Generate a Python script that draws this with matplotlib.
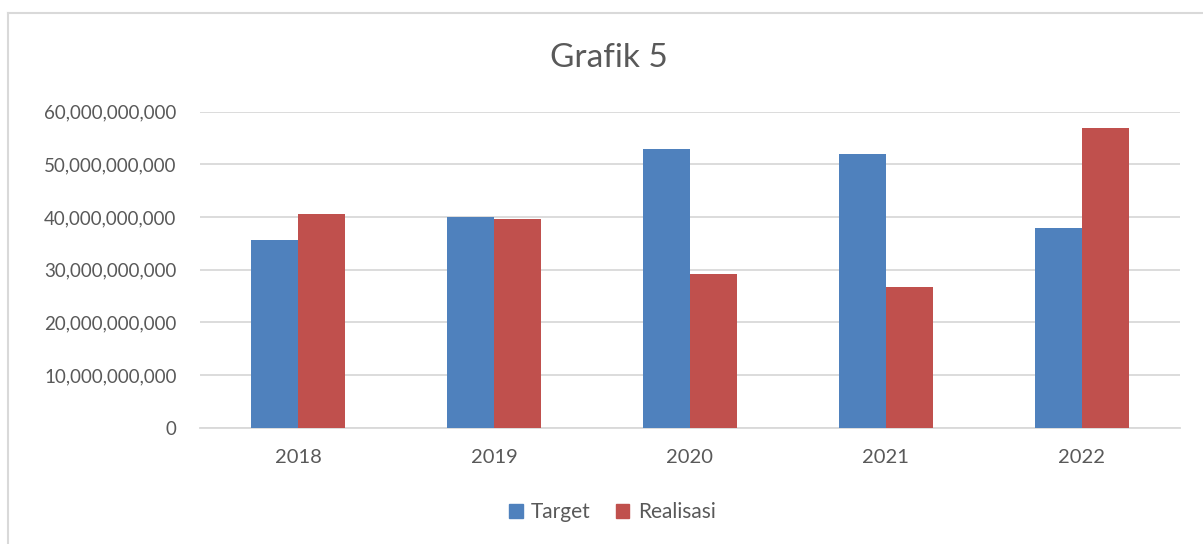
import numpy as np
import matplotlib.pyplot as plt
from matplotlib.patches import Patch
from matplotlib.lines import Line2D
from matplotlib.ticker import FuncFormatter

plt.rcParams['font.family'] = ['Lato', 'DejaVu Sans']

years = ['2018', '2019', '2020', '2021', '2022']
target = [35.7e9, 40.0e9, 52.9e9, 52.0e9, 38.0e9]
realisasi = [40.6e9, 39.6e9, 29.2e9, 26.7e9, 56.9e9]

blue = '#4F81BD'
red = '#C0504D'
txt = '#595959'
grid = '#D9D9D9'

fig = plt.figure(figsize=(12.03, 5.44), dpi=100)
ax = fig.add_axes([0.1663, 0.2138, 0.8143, 0.5809])

x = np.arange(len(years))
w = 0.24
ax.bar(x - w/2, target, w, color=blue, label='Target', zorder=3)
ax.bar(x + w/2, realisasi, w, color=red, label='Realisasi', zorder=3)

ax.set_xlim(-0.5, len(years) - 0.5)
ax.set_ylim(0, 60e9)
ax.set_yticks(np.arange(0, 60e9 + 1, 10e9))
ax.yaxis.set_major_formatter(FuncFormatter(lambda v, p: '{:,.0f}'.format(v)))
ax.set_xticks(x)
ax.set_xticklabels(years)
ax.grid(axis='y', color=grid, linewidth=1.3, zorder=0)
for s in ['top', 'right', 'left']:
    ax.spines[s].set_visible(False)
ax.spines['bottom'].set_color(grid)
ax.spines['bottom'].set_linewidth(1.3)
ax.tick_params(axis='both', length=0, colors=txt)
ax.tick_params(axis='y', pad=17, labelsize=13.5)
ax.tick_params(axis='x', pad=15, labelsize=14.5)

fig.text(0.506, 0.894, 'Grafik 5', ha='center', va='center', fontsize=24, color=txt)

handles = [Patch(color=blue, label='Target'), Patch(color=red, label='Realisasi')]
fig.legend(handles=handles, loc='center', bbox_to_anchor=(0.509, 0.059), ncol=2,
           frameon=False, fontsize=15, labelcolor=txt, handlelength=0.65,
           handleheight=0.65, handletextpad=0.4, columnspacing=1.2)

# outer chart frame (top and left edges visible)
fig.add_artist(Line2D([8/1203, 1], [1 - 13/544, 1 - 13/544], color=grid, linewidth=1.5))
fig.add_artist(Line2D([8/1203, 8/1203], [0, 1 - 13/544], color=grid, linewidth=1.5))

fig.savefig('out.png', dpi=100)
